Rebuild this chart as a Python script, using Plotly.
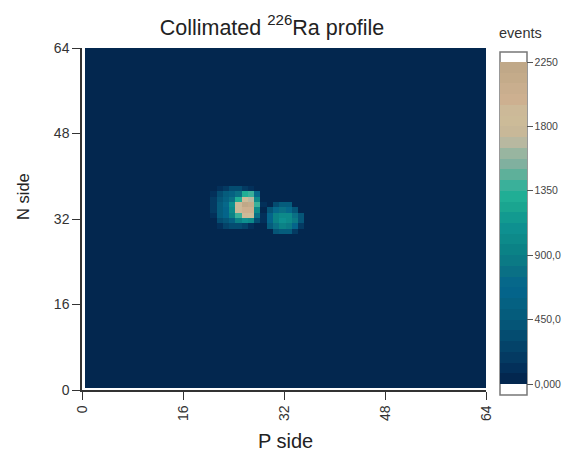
import plotly.graph_objects as go

grid_size = 64
background_level = 0

blob_a_first_col = 20
blob_a_rows = {
    37: [0, 100, 200, 300, 300, 200, 100, 0, 0],
    36: [100, 350, 500, 550, 800, 1300, 1400, 700, 0],
    35: [200, 400, 550, 800, 1300, 1800, 1700, 1000, 0],
    34: [200, 450, 700, 1100, 1900, 2200, 2150, 1400, 100],
    33: [200, 450, 650, 1000, 1900, 2000, 1950, 1000, 0],
    32: [100, 450, 600, 900, 1400, 1900, 1800, 800, 0],
    31: [0, 300, 400, 550, 900, 1100, 1000, 300, 0],
    30: [0, 100, 250, 350, 350, 250, 100, 0, 0],
}
blob_b_first_col = 28
blob_b_rows = {
    34: [0, 0, 300, 500, 500, 0, 0],
    33: [0, 400, 700, 800, 700, 400, 0],
    32: [100, 600, 900, 1000, 1000, 800, 400],
    31: [100, 650, 950, 1050, 1000, 850, 400],
    30: [0, 500, 800, 900, 850, 600, 200],
    29: [0, 0, 400, 500, 450, 200, 0],
}

band_colors = [
    "#03274f", "#03305a", "#043a62", "#044369", "#044c70", "#055577", "#055c7c", "#056182",
    "#04648a", "#06688a", "#0a7085", "#0b7a85", "#0b8286", "#0d8a8a", "#0e9090", "#129a90",
    "#1aa590", "#20ae95", "#3ab09a", "#5eb09a", "#80b09f", "#98b5a0", "#b8b8a0", "#c8b898",
    "#ccbb98", "#ccb998", "#cdb090", "#c9ae8e", "#c4ab8a", "#c0a888",
]
z_max = 2250
cbar_ticks = [0, 450, 900, 1350, 1800, 2250]
cbar_labels = ["0,000", "450,0", "900,0", "1350", "1800", "2250"]
axis_ticks = [0, 16, 32, 48, 64]

z = [[background_level] * grid_size for _ in range(grid_size)]
for first, rows in ((blob_a_first_col, blob_a_rows), (blob_b_first_col, blob_b_rows)):
    for row, vals in rows.items():
        for i, v in enumerate(vals):
            z[row][first + i] = max(z[row][first + i], v)

n = len(band_colors)
scale = []
for i, c in enumerate(band_colors):
    scale += [[i / n, c], [(i + 1) / n, c]]

W, H = 567, 454
L, R, T, B = 82, 486, 48, 390
PW, PH = R - L, B - T
def px(x):
    return (x - L) / PW
def py(y):
    return (B - y) / PH

FONT = "Liberation Sans"
x_start = 3 / PW * 64
y_start = 2 / PH * 64

fig = go.Figure(go.Heatmap(
    z=z,
    x0=x_start + (64 - x_start) / 128, dx=(64 - x_start) / 64,
    y0=y_start + (64 - y_start) / 128, dy=(64 - y_start) / 64,
    zmin=0, zmax=z_max, colorscale=scale,
    colorbar=dict(
        x=px(500), xanchor="left", thickness=27, thicknessmode="pixels",
        y=py(384), yanchor="bottom", len=322, lenmode="pixels",
        ypad=0, xpad=0, outlinewidth=0,
        tickmode="array", tickvals=cbar_ticks, ticktext=cbar_labels,
        ticks="outside", ticklen=6, tickwidth=1, tickcolor="#555555",
        tickfont=dict(family=FONT, size=10.5, color="#444444"),
    ),
))
fig.update_layout(
    width=W, height=H, paper_bgcolor="white", plot_bgcolor="white",
    margin=dict(l=L, r=W - R, t=T, b=H - B, autoexpand=False),
    title=dict(text="Collimated <sup>226</sup>Ra profile", x=272 / W, xanchor="center",
               y=1 - 27 / H, yanchor="middle",
               font=dict(family=FONT, size=21.5, color="#222222")),
    font=dict(family=FONT, color="#333333"),
    shapes=[dict(type="rect", xref="paper", yref="paper",
                 x0=px(500), x1=px(527), y0=py(395), y1=py(52),
                 line=dict(color="#777777", width=1.5), fillcolor="rgba(0,0,0,0)")],
    annotations=[
        dict(text="events", xref="paper", yref="paper", showarrow=False,
             x=px(520), y=py(33), xanchor="center", yanchor="middle",
             font=dict(family=FONT, size=14.5, color="#333333")),
        dict(text="P side", xref="paper", yref="paper", showarrow=False,
             x=px(285), y=py(441), xanchor="center", yanchor="middle",
             font=dict(family=FONT, size=20, color="#222222")),
        dict(text="N side", xref="paper", yref="paper", showarrow=False, textangle=-90,
             x=px(23), y=py(197), xanchor="center", yanchor="middle",
             font=dict(family=FONT, size=16.5, color="#222222")),
    ],
)
axis_common = dict(tickmode="array", tickvals=axis_ticks, ticks="outside", ticklen=8, tickwidth=1,
                   tickcolor="#333333", showgrid=False, zeroline=False, showline=True,
                   linecolor="#333333", linewidth=1.5,
                   tickfont=dict(family=FONT, size=14, color="#333333"))
fig.update_xaxes(range=[0, 64], tickangle=-90, **axis_common)
fig.update_yaxes(range=[0, 64], **axis_common)
fig.write_html("out.html", config={"displayModeBar": False},
               post_script="document.body.style.margin='0';")
